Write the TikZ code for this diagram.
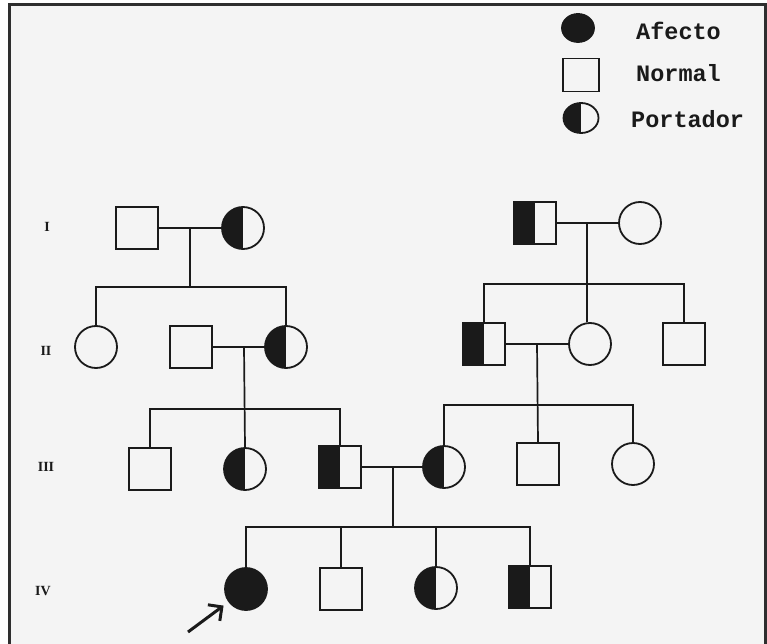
\documentclass[tikz,border=0pt]{standalone}
\usepackage{fontspec}
\newfontfamily\legendfont{Liberation Mono}
\newfontfamily\genfont{Liberation Serif}
\usetikzlibrary{arrows.meta,shapes.geometric}
\definecolor{paper}{HTML}{F4F4F4}
\definecolor{ink}{HTML}{1A1A1A}
\definecolor{framecol}{HTML}{2E2E2E}
\tikzset{
  person/.style={draw=ink, line width=1.8pt, fill=paper, inner sep=0pt},
  male/.style={person, rectangle, minimum size=42pt},
  female/.style={person, circle, minimum size=42pt},
  affected/.style={fill=ink},
  carrier/.style={path picture={\fill[ink] (path picture bounding box.south west) rectangle (path picture bounding box.north);}},
  link/.style={draw=ink, line width=1.7pt},
  genlabel/.style={font=\genfont\bfseries\fontsize{14}{16}\selectfont, text=ink, inner sep=0pt},
  legendlabel/.style={font=\legendfont\bfseries\fontsize{23.5}{26}\selectfont, anchor=west, text=ink, inner sep=0pt},
}
\begin{document}
\begin{tikzpicture}[x=1pt,y=-1pt]
  % page and frame
  \useasboundingbox (0,0) rectangle (767,644);
  \fill[white] (0,0) rectangle (767,644);
  \fill[paper] (9,5) rectangle (765,660);
  \draw[framecol, line width=3pt] (9,5) rectangle (765,660);

  % legend
  \node[person, ellipse, affected, minimum width=32pt, minimum height=28pt] (L1) at (578,28) {};
  \node[person, rectangle, minimum width=36pt, minimum height=33pt] (L2) at (581,75) {};
  \node[person, ellipse, carrier, minimum width=35pt, minimum height=30pt] (L3) at (581,118) {};
  \node[legendlabel] (T1) at (636,31) {Afecto};
  \node[legendlabel] (T2) at (636,73) {Normal};
  \node[legendlabel] (T3) at (631,119) {Portador};

  % generation labels
  \node[genlabel] (gI)   at (47,227) {I};
  \node[genlabel] (gII)  at (46,351) {II};
  \node[genlabel] (gIII) at (46,467) {III};
  \node[genlabel] (gIV)  at (43,591) {IV};

  % generation I
  \node[male] (I1) at (137,228) {};
  \node[female, carrier] (I2) at (243,228) {};
  \node[male, carrier] (I3) at (535,223) {};
  \node[female] (I4) at (640,223) {};

  % generation II
  \node[female] (II1) at (96,347) {};
  \node[male] (II2) at (191,347) {};
  \node[female, carrier] (II3) at (286,347) {};
  \node[male, carrier] (II4) at (484,344) {};
  \node[female] (II5) at (590,344) {};
  \node[male] (II6) at (684,344) {};

  % generation III
  \node[male] (III1) at (150,469) {};
  \node[female, carrier] (III2) at (245,469) {};
  \node[male, carrier] (III3) at (340,467) {};
  \node[female, carrier] (III4) at (444,467) {};
  \node[male] (III5) at (538,464) {};
  \node[female] (III6) at (633,464) {};

  % generation IV
  \node[female, affected] (IV1) at (246,589) {};
  \node[male] (IV2) at (341,589) {};
  \node[female, carrier] (IV3) at (436,588) {};
  \node[male, carrier] (IV4) at (530,587) {};

  % sibship bars and descent points
  \coordinate (mA) at (190,228);
  \coordinate (sA) at (190,287);
  \coordinate (mB) at (587,223);
  \coordinate (sB) at (587,284);
  \coordinate (mC) at (244,347);
  \coordinate (sC) at (244,409);
  \coordinate (mD) at (537,344);
  \coordinate (sD) at (537,405);
  \coordinate (mE) at (393,467);
  \coordinate (sE) at (393,527);

  % couple I1 x I2
  \draw[link] (I1) -- (I2);
  \draw[link] (mA) -- (sA);
  \draw[link] (II1.north) |- (sA) -| (II3.north);

  % couple I3 x I4
  \draw[link] (I3) -- (I4);
  \draw[link] (mB) -- (sB);
  \draw[link] (II4.north) |- (sB) -| (II6.north);
  \draw[link] (sB) -- (II5.north -| sB);

  % couple II2 x II3
  \draw[link] (II2) -- (II3);
  \draw[link] (mC) -- (III2.north);
  \draw[link] (III1.north) |- (sC) -| (III3.north);

  % couple II4 x II5
  \draw[link] (II4) -- (II5);
  \draw[link] (mD) -- (III5.north);
  \draw[link] (III4.north) |- (sD) -| (III6.north);

  % couple III3 x III4
  \draw[link] (III3) -- (III4);
  \draw[link] (mE) -- (sE);
  \draw[link] (IV1.north) |- (sE) -| (IV4.north);
  \draw[link] (IV2.north) -- (IV2.north |- sE);
  \draw[link] (IV3.north) -- (IV3.north |- sE);

  % proband arrow
  \coordinate (tail) at (188,632);
  \draw[link, line width=3pt, -{Straight Barb[length=10pt,width=20pt]}, shorten >=6pt] (tail) -- (IV1);
\end{tikzpicture}
\end{document}
